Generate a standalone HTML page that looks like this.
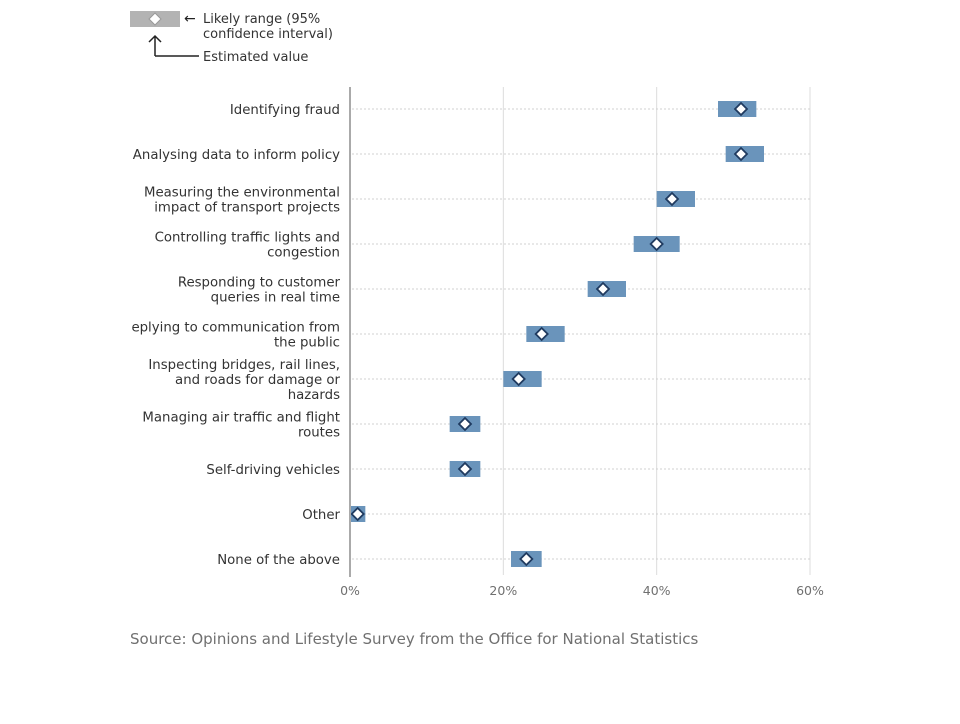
<!DOCTYPE html>
<html><head><meta charset="utf-8"><style>
body{margin:0;background:#fff;font-family:"DejaVu Sans",sans-serif;}
svg text{font-family:"DejaVu Sans","Liberation Sans",sans-serif;}
</style></head><body>
<svg id="chart" width="960" height="720" xmlns="http://www.w3.org/2000/svg">
<g>
<rect x="130" y="11" width="50" height="16" fill="#b3b3b3"/>
<path d="M155 13 L161 19 L155 25 L149 19 Z" fill="#fff" stroke="#999" stroke-width="1"/>
<text x="184" y="23" font-size="14" fill="#222">←</text>
<text x="203" y="23" font-size="13" fill="#333">Likely range (95%</text>
<text x="203" y="38" font-size="13" fill="#333">confidence interval)</text>
<path d="M155 56 L155 36 M149 42 L155 36 L161 42 M155 56 L199 56" fill="none" stroke="#222" stroke-width="1.5"/>
<text x="203" y="61" font-size="13" fill="#333">Estimated value</text>
</g>
<g id="plot"></g>
<text x="130" y="644" font-size="15" fill="#707070">Source: Opinions and Lifestyle Survey from the Office for National Statistics</text>
</svg>
<script>
const categories=[["Identifying fraud"],["Analysing data to inform policy"],["Measuring the environmental","impact of transport projects"],["Controlling traffic lights and","congestion"],["Responding to customer","queries in real time"],["eplying to communication from","the public"],["Inspecting bridges, rail lines,","and roads for damage or","hazards"],["Managing air traffic and flight","routes"],["Self-driving vehicles"],["Other"],["None of the above"]];
const estimates=[51,51,42,40,33,25,22,15,15,1,23];
const lowerBounds=[48,49,40,37,31,23,20,13,13,0,21];
const upperBounds=[53,54,45,43,36,28,25,17,17,2,25];
const xTicks=[0,20,40,60];
const xTickLabels=["0%","20%","40%","60%"];
const NS="http://www.w3.org/2000/svg";
const g=document.getElementById('plot');
const x=v=>350+v*(460/60);
const y=i=>109+i*45;
function mk(t,a){const e=document.createElementNS(NS,t);for(const k in a)e.setAttribute(k,a[k]);g.appendChild(e);return e;}
xTicks.forEach((t,i)=>{
 if(t>0){const l=mk('line',{x1:x(t),x2:x(t),y1:87,y2:575,stroke:'#dcdcdc','stroke-width':1});
 
 }
 const tx=mk('text',{x:x(t),y:595,'font-size':12.5,fill:'#707070','text-anchor':'middle'});tx.textContent=xTickLabels[i];
 
 
});
categories.forEach((c,i)=>{
 const gl=mk('line',{x1:352,x2:810,y1:y(i),y2:y(i),stroke:'#d0d0d0','stroke-dasharray':'2,2'});
 
 
 const n=c.length;
 c.forEach((ln,j)=>{const t=mk('text',{x:340,y:y(i)+5+(j-(n-1)/2)*15,'font-size':13.3,fill:'#333','text-anchor':'end'});t.textContent=ln;
 
 });
 const r=mk('rect',{x:x(lowerBounds[i]),y:y(i)-8,width:x(upperBounds[i])-x(lowerBounds[i]),height:16,fill:'#6a94bb'});
 
 
 const cx=x(estimates[i]),cy=y(i);
 const d=mk('path',{d:`M${cx} ${cy-6} L${cx+6} ${cy} L${cx} ${cy+6} L${cx-6} ${cy} Z`,fill:'#fff',stroke:'#1f3a5f','stroke-width':1.8});
 
 
});
const ax=mk('line',{x1:350,x2:350,y1:87,y2:577,stroke:'#aaa','stroke-width':2});


</script>
</body></html>
